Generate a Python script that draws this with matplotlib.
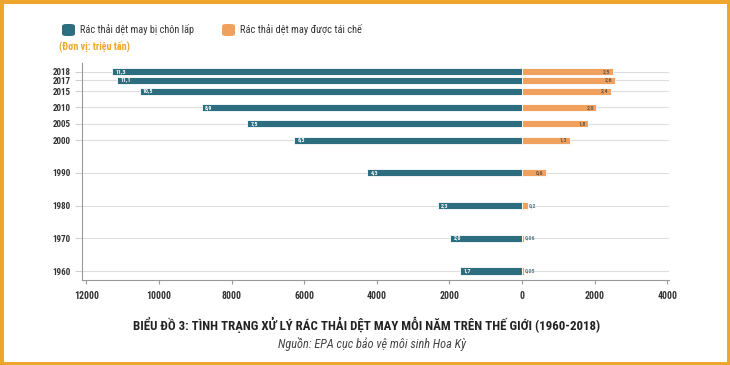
import numpy as np
import matplotlib.pyplot as plt
from matplotlib import font_manager as fm
from matplotlib.patches import FancyBboxPatch, Rectangle

# data (thousand tonnes)
years = np.array([1960, 1970, 1980, 1990, 2000, 2005, 2010, 2015, 2017, 2018])
landfill = np.array([1710, 1980, 2320, 4270, 6280, 7570, 8820, 10530, 11150, 11300])
recycled = np.array([50, 60, 160, 660, 1320, 1830, 2050, 2460, 2570, 2510])
landfill_labels = ['1,7', '2,0', '2,3', '4,3', '6,3', '7,5', '8,9', '10,5', '11,1', '11,3']
recycled_labels = ['0,05', '0,06', '0,2', '0,6', '1,3', '1,8', '2,0', '2,4', '2,6', '2,5']
xticks = [-12000, -10000, -8000, -6000, -4000, -2000, 0, 2000, 4000]

TEAL = '#2c6e7f'
ORANGE = '#f0a15e'
GOLD = '#eea62a'

# pick a narrow font if one is around
installed = {f.name for f in fm.fontManager.ttflist}
for fam in ['Roboto Condensed', 'Liberation Sans Narrow']:
    if fam in installed:
        plt.rcParams['font.family'] = [fam, 'DejaVu Sans']
        break
else:
    plt.rcParams['font.family'] = ['DejaVu Sans']
    plt.rcParams['font.stretch'] = 'condensed'

# the last years are spread out a bit so the bars don't overlap
pos = years + np.clip(years - 2015, 0, None) ** 2 / 3

fig = plt.figure(figsize=(7.3, 3.65), dpi=100)
fig.patch.set_facecolor('white')
fig.add_artist(Rectangle((0, 0), 1, 1, transform=fig.transFigure, fill=False,
                         edgecolor=GOLD, linewidth=5))

ax = fig.add_axes([82/730, 85/365, 587/730, 217/365])
ax.barh(pos, -landfill, height=2.15, color=TEAL, edgecolor='white', linewidth=0.6, zorder=2)
ax.barh(pos, recycled, height=2.15, color=ORANGE, edgecolor='white', linewidth=0.6, zorder=2)

for p, v, lab in zip(pos, landfill, landfill_labels):
    ax.text(-v + 90, p, lab, color='white', fontsize=4.2, fontweight='bold',
            ha='left', va='center', zorder=3)
for p, v, lab in zip(pos, recycled, recycled_labels):
    if v > 400:
        ax.text(v - 70, p, lab, color='#6b5a48', fontsize=4.2, fontweight='bold',
                ha='right', va='center', zorder=3)
    else:
        ax.text(v + 20, p, lab, color='#5a7f8c', fontsize=4.2, fontweight='bold',
                ha='left', va='center', zorder=3)

ax.set_xlim(-12121, 4050)
ax.set_ylim(1957.25, 2023.6)
ax.set_yticks(pos)
ax.set_yticklabels([str(y) for y in years], fontsize=6.5, fontweight='bold', color='#333333')
ax.set_xticks(xticks)
ax.set_xticklabels([str(abs(t)) for t in xticks], fontsize=7, fontweight='bold', color='#333333')
ax.yaxis.grid(True, color='#dedede', linewidth=0.8, zorder=0)
ax.set_axisbelow(True)
ax.tick_params(axis='y', length=5, color='#d0d0d0', pad=3)
ax.tick_params(axis='x', length=3, color='#999999', pad=5)
for s in ['top', 'right']:
    ax.spines[s].set_visible(False)
ax.spines['left'].set_color('#999999')
ax.spines['bottom'].set_color('#999999')
ax.spines['left'].set_linewidth(0.8)
ax.spines['bottom'].set_linewidth(0.8)

renderer = fig.canvas.get_renderer()


def fit(t, width_px):
    # scale the font so the text spans the same width as in the original
    w = t.get_window_extent(renderer).width
    t.set_fontsize(t.get_fontsize() * width_px / w)
    return t


# legend
for x0, col, txt, w in [(62, TEAL, 'Rác thải dệt may bị chôn lấp', 113),
                        (222, ORANGE, 'Rác thải dệt may được tái chế', 121)]:
    fig.add_artist(FancyBboxPatch((x0/730, 1 - 36/365), 13/730, 12/365,
                                  boxstyle='round,pad=0,rounding_size=0.006',
                                  transform=fig.transFigure, facecolor=col, edgecolor='none'))
    fit(fig.text((x0 + 18)/730, 1 - 30/365, txt, fontsize=8.5, color='#333333', va='center'), w)
fit(fig.text(59/730, 1 - 46/365, '(Đơn vị: triệu tấn)', fontsize=7.5, fontweight='bold',
             color=GOLD, va='center'), 70)

fit(fig.text(367/730, 1 - 325/365,
             'BIỂU ĐỒ 3: TÌNH TRẠNG XỬ LÝ RÁC THẢI DỆT MAY MỖI NĂM TRÊN THẾ GIỚI (1960-2018)',
             fontsize=11, fontweight='bold', color='#222222', ha='center', va='center'), 465)
fit(fig.text(372/730, 1 - 344/365, 'Nguồn: EPA cục bảo vệ môi sinh Hoa Kỳ',
             fontsize=8.5, style='italic', color='#444444', ha='center', va='center'), 188)

fig.savefig('out.png', dpi=100)
